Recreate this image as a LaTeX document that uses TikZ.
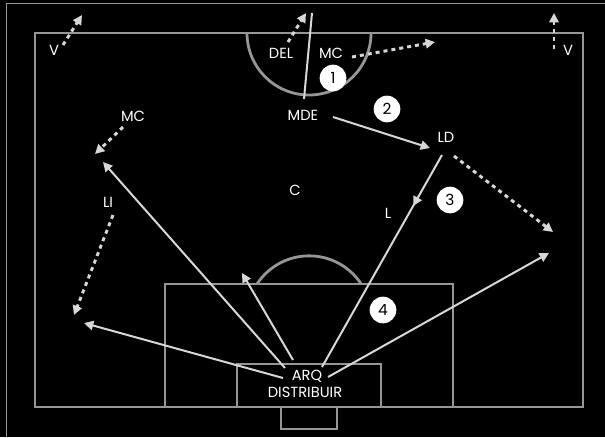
\documentclass[tikz,border=0pt]{standalone}
\usepackage{fontspec}
\setmainfont{Poppins}
\usetikzlibrary{arrows.meta,decorations.markings}
\definecolor{fieldgray}{RGB}{150,150,150}
\definecolor{arrowgray}{RGB}{215,215,215}
\begin{document}
\begin{tikzpicture}[x=0.75pt,y=-0.75pt,
  field/.style={draw=fieldgray,line width=2.1pt},
  pass/.style={draw=arrowgray,line width=1.5pt,-{Triangle[length=7pt,width=7pt]}},
  plainpass/.style={draw=arrowgray,line width=1.5pt},
  run/.style={draw=arrowgray,line width=2.2pt,dash pattern=on 3pt off 3pt,-{Triangle[length=7pt,width=7pt]}},
  lbl/.style={text=white,font=\fontsize{11}{12}\selectfont,inner sep=0pt},
  num/.style={circle,fill=white,text=black,minimum size=20pt,inner sep=0pt,font=\fontsize{11.5}{12}\selectfont},
  midarrow/.style={decoration={markings,mark=at position 0.24 with {\arrow{Triangle[length=7pt,width=7pt]}}},postaction={decorate}}]
\useasboundingbox (0,0) rectangle (605,437);
\fill[black] (0,0) rectangle (605,437);
\draw[fieldgray,line width=0.6pt] (6,437) -- (6,3) -- (605,3);
% pitch
\draw[field] (35,33) rectangle (583,407);
\draw[field] (247,33) arc[start angle=180,end angle=360,radius=46.5pt];
\draw[field] (257,284) arc[start angle=146.8,end angle=33.2,radius=46.7pt];
\draw[field] (165,407) -- (165,284) -- (453,284) -- (453,407);
\draw[field] (237,407) -- (237,364) -- (381,364) -- (381,407);
\draw[field] (281,407) -- (281,429) -- (337,429) -- (337,407);
% labels
\node[lbl] (vl) at (54,50) {V};
\node[lbl] (vr) at (568,50) {V};
\node[lbl] (mcl) at (133,116) {MC};
\node[lbl] (del) at (281,53) {DEL};
\node[lbl] (mcr) at (331,53) {MC};
\node[lbl] (mde) at (303,115) {MDE};
\node[lbl] (ld) at (446,137) {LD};
\node[lbl] (c) at (295,190) {C};
\node[lbl] (l) at (388,213) {L};
\node[lbl] (li) at (108,202) {LI};
\node[lbl] (arq) at (307,376) {ARQ};
\node[lbl] (dist) at (305,392) {DISTRIBUIR};
\node[num] (n1) at (333,78) {1};
\node[num] (n2) at (387,109) {2};
\node[num] (n3) at (450,200) {3};
\node[num] (n4) at (383,310) {4};
% endpoints
\coordinate (vls) at (63,45);   \coordinate (vle) at (82,15);
\coordinate (vrs) at (554,49);  \coordinate (vre) at (554,13);
\coordinate (mcls) at (123,127); \coordinate (mcle) at (95,154);
\coordinate (dels) at (288,42); \coordinate (dele) at (306,13);
\coordinate (mcrs) at (352,57); \coordinate (mcre) at (435,42);
\coordinate (lis) at (113,215); \coordinate (lie) at (74,315);
\coordinate (lds) at (454,156); \coordinate (lde) at (553,232);
\coordinate (mdeb) at (304,99); \coordinate (mdet) at (312,13);
\coordinate (mder) at (333,117); \coordinate (ldin) at (430,148);
\coordinate (ldb) at (442,155); \coordinate (arqr) at (322,367);
\coordinate (arqa) at (285,368); \coordinate (mclin) at (103,162);
\coordinate (arqb) at (283,378); \coordinate (lbin) at (84,323);
\coordinate (arqc) at (293,360); \coordinate (cin) at (242,273);
\coordinate (arqd) at (328,377); \coordinate (rbin) at (549,253);
% runs
\draw[run] (vls) -- (vle);
\draw[run] (vrs) -- (vre);
\draw[run] (mcls) -- (mcle);
\draw[run] (dels) -- (dele);
\draw[run] (mcrs) -- (mcre);
\draw[run] (lis) -- (lie);
\draw[run] (lds) -- (lde);
% passes
\draw[plainpass] (mdeb) -- (mdet);
\draw[pass] (mder) -- (ldin);
\draw[plainpass,midarrow] (ldb) -- (arqr);
\draw[pass] (arqa) -- (mclin);
\draw[pass] (arqb) -- (lbin);
\draw[pass] (arqc) -- (cin);
\draw[pass] (arqd) -- (rbin);
\end{tikzpicture}
\end{document}
